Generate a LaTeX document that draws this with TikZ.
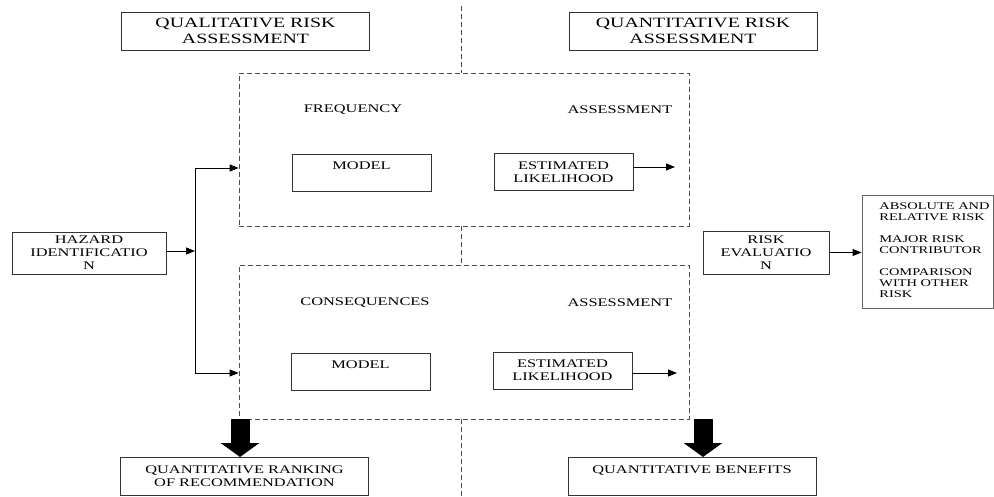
\documentclass[tikz,border=0pt]{standalone}
\usepackage{fontspec}
\setmainfont[FakeStretch=1.4]{Liberation Serif}
\usetikzlibrary{arrows.meta,positioning}

\begin{document}
\begin{tikzpicture}[x=1pt,y=-1pt,
  line width=0.8pt,
  boxstyle/.style={draw=black!80,align=center,inner sep=0,font=\fontsize{11.7}{13}\selectfont},
  titlestyle/.style={boxstyle,minimum width=248,minimum height=38,font=\fontsize{14.2}{16}\selectfont},
  smallstyle/.style={boxstyle,minimum width=139,minimum height=37},
  dashstyle/.style={draw=black!70,dash pattern=on 5pt off 3pt,line width=0.7pt},
  labelstyle/.style={inner sep=0,font=\fontsize{11.7}{13}\selectfont},
  arrowstyle/.style={-{Triangle[length=9pt,width=7pt]}},
  bigarrow/.style={line width=19pt,-{Triangle[length=14pt,width=38pt]}}]
\useasboundingbox (0,0) rectangle (994,497);

% headings
\node[titlestyle] (qual) at (245.5,31) {QUALITATIVE RISK\\ASSESSMENT};
\node[titlestyle] (quant) at (693,31) {QUANTITATIVE RISK\\ASSESSMENT};

% dashed blocks
\node[dashstyle,minimum width=450,minimum height=153] (freq) at (464,149.5) {};
\node[dashstyle,minimum width=450,minimum height=154] (cons) at (464,342) {};
\coordinate (top) at (461,6);
\coordinate (bottom) at (461,497);
\draw[dashstyle] (top) -- (top |- freq.north);
\draw[dashstyle] (top |- freq.south) -- (top |- cons.north);
\draw[dashstyle] (top |- cons.south) -- (bottom);

\node[labelstyle] (freqlabel) at (353,110) {FREQUENCY};
\node[labelstyle] (freqassess) at (620,110) {ASSESSMENT};
\node[labelstyle] (conslabel) at (365,303) {CONSEQUENCES};
\node[labelstyle] (consassess) at (620,303) {ASSESSMENT};

\node[smallstyle] (model1) at (361.5,172.5) {MODEL\\~};
\node[smallstyle] (est1) at (563.5,172) {ESTIMATED\\LIKELIHOOD};
\node[smallstyle] (model2) at (360.5,371.5) {MODEL\\~};
\node[smallstyle] (est2) at (562.5,370.5) {ESTIMATED\\LIKELIHOOD};
\coordinate (tip1) at (675,167);
\coordinate (tip2) at (677,373);
\draw[arrowstyle] (est1.east |- tip1) -- (tip1);
\draw[arrowstyle] (est2.east |- tip2) -- (tip2);

% hazard identification
\node[boxstyle,minimum width=154,minimum height=42] (hazard) at (89,253) {HAZARD\\IDENTIFICATIO\\N};
\coordinate (fork) at (195,251);
\coordinate (forktop) at (195,168);
\coordinate (forkbot) at (195,373);
\draw[arrowstyle] (hazard.east |- fork) -- (fork);
\draw (forktop) -- (forkbot);
\draw[arrowstyle] (forktop) -- (forktop -| freq.west);
\draw[arrowstyle] (forkbot) -- (forkbot -| cons.west);

% risk evaluation
\node[boxstyle,minimum width=126,minimum height=43] (risk) at (766,252.5) {RISK\\EVALUATIO\\N};
\node[draw=black!60,minimum width=131,minimum height=113,inner sep=0] (list) at (927.5,251.5) {};
\node[anchor=north west,inner sep=0,align=left,font=\fontsize{10.3}{11}\selectfont] (listtext) at (879,202)
  {ABSOLUTE AND\\RELATIVE RISK\\[11pt]MAJOR RISK\\CONTRIBUTOR\\[11pt]COMPARISON\\WITH OTHER\\RISK};
\draw[arrowstyle] (risk.east) -- (list.west |- risk.east);

% results
\node[titlestyle,font=\fontsize{11.7}{13}\selectfont] (rank) at (244.5,476) {QUANTITATIVE RANKING\\OF RECOMMENDATION};
\node[titlestyle,font=\fontsize{11.7}{13}\selectfont] (benefit) at (692,476) {QUANTITATIVE BENEFITS\\~};
\coordinate (rankin) at (240,457);
\coordinate (benefitin) at (703,457);
\draw[bigarrow] (rankin |- cons.south) -- (rankin);
\draw[bigarrow] (benefitin |- cons.south) -- (benefitin);
\end{tikzpicture}
\end{document}
